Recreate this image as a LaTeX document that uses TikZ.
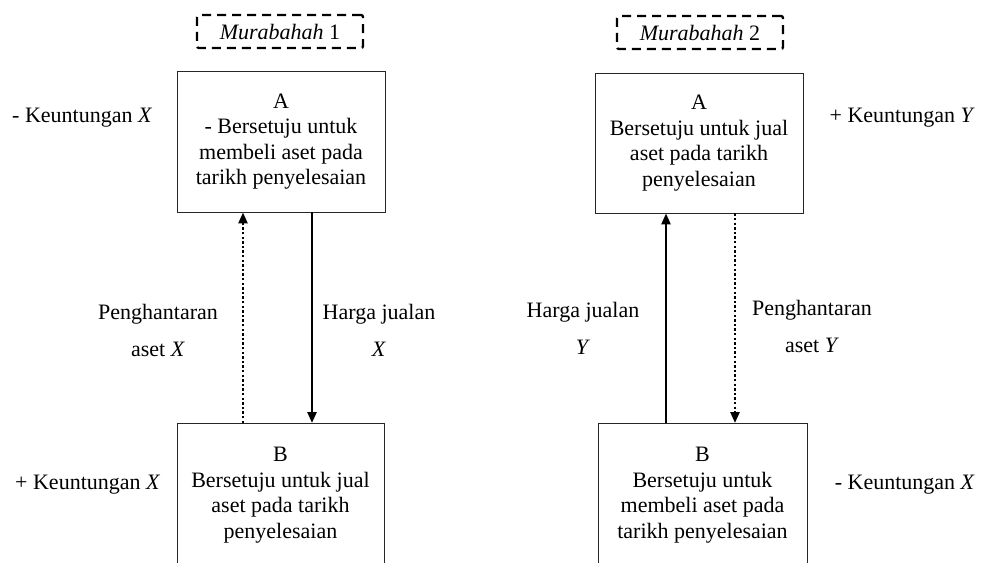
\documentclass[tikz,border=0pt]{standalone}
\usepackage{fontspec}
\setmainfont{Liberation Serif}
\usetikzlibrary{arrows.meta}

\tikzset{
  txt/.style={align=center, inner sep=0pt, font=\fontsize{22}{25.5}\selectfont},
  midtxt/.style={align=center, inner sep=0pt, font=\fontsize{22}{37}\selectfont},
  party/.style={draw=black!85, line width=0.9pt, inner sep=0pt},
  tagbox/.style={draw=black, line width=2.3pt, dash pattern=on 9pt off 6pt,
    rounded corners=2pt, minimum width=166pt, minimum height=33pt,
    inner sep=0pt, font=\fontsize{22}{26}\selectfont},
  tip/.style={-{Triangle[length=11pt,width=9pt]}},
  paid/.style={tip, line width=2.4pt},
  handover/.style={tip, line width=2.4pt, dash pattern=on 2.4pt off 2.2pt},
}

\begin{document}
\begin{tikzpicture}[x=1pt,y=-1pt]
  \useasboundingbox (0,0) rectangle (984,562);
  \clip (0,0) rectangle (984,562);

  % ---------- Murabahah 1 ----------
  \node[tagbox] (tag1) at (280,31.5) {\textit{Murabahah} 1};
  \node[party, minimum width=208pt, minimum height=141pt] (A1) at (281,141.5) {};
  \node[txt] (tA1) at (A1.center) {A\\- Bersetuju untuk\\membeli aset pada\\tarikh penyelesaian};
  \node[party, minimum width=207pt, minimum height=180pt, anchor=north] (B1) at (280.5,423) {};
  \node[txt] (tB1) at (280.5,495) {B\\Bersetuju untuk jual\\aset pada tarikh\\penyelesaian};

  \coordinate (x1a) at (243,0);
  \coordinate (x1b) at (312,0);
  \draw[handover] (B1.north -| x1a) -- (A1.south -| x1a);
  \draw[paid] (A1.south -| x1b) -- (B1.north -| x1b);

  \node[midtxt] (lp1) at (158,330) {Penghantaran\\aset \textit{X}};
  \node[midtxt] (lh1) at (379,330) {Harga jualan\\\textit{X}};
  \node[txt, anchor=base west] (kA1) at (12,122) {- Keuntungan \textit{X}};
  \node[txt, anchor=base west] (kB1) at (15,489) {+ Keuntungan \textit{X}};

  % ---------- Murabahah 2 ----------
  \node[tagbox] (tag2) at (700,32.5) {\textit{Murabahah} 2};
  \node[party, minimum width=208pt, minimum height=140pt] (A2) at (699,143) {};
  \node[txt] (tA2) at (A2.center) {A\\Bersetuju untuk jual\\aset pada tarikh\\penyelesaian};
  \node[party, minimum width=209pt, minimum height=180pt, anchor=north] (B2) at (702.5,423) {};
  \node[txt] (tB2) at (702.5,495) {B\\Bersetuju untuk\\membeli aset pada\\tarikh penyelesaian};

  \coordinate (x2a) at (666,0);
  \coordinate (x2b) at (735,0);
  \draw[paid] (B2.north -| x2a) -- (A2.south -| x2a);
  \draw[handover] (A2.south -| x2b) -- (B2.north -| x2b);

  \node[midtxt] (lh2) at (583,328) {Harga jualan\\\textit{Y}};
  \node[midtxt] (lp2) at (812,326) {Penghantaran\\aset \textit{Y}};
  \node[txt, anchor=base east] (kA2) at (975,122) {+ Keuntungan \textit{Y}};
  \node[txt, anchor=base east] (kB2) at (975,489) {- Keuntungan \textit{X}};
\end{tikzpicture}
\end{document}
